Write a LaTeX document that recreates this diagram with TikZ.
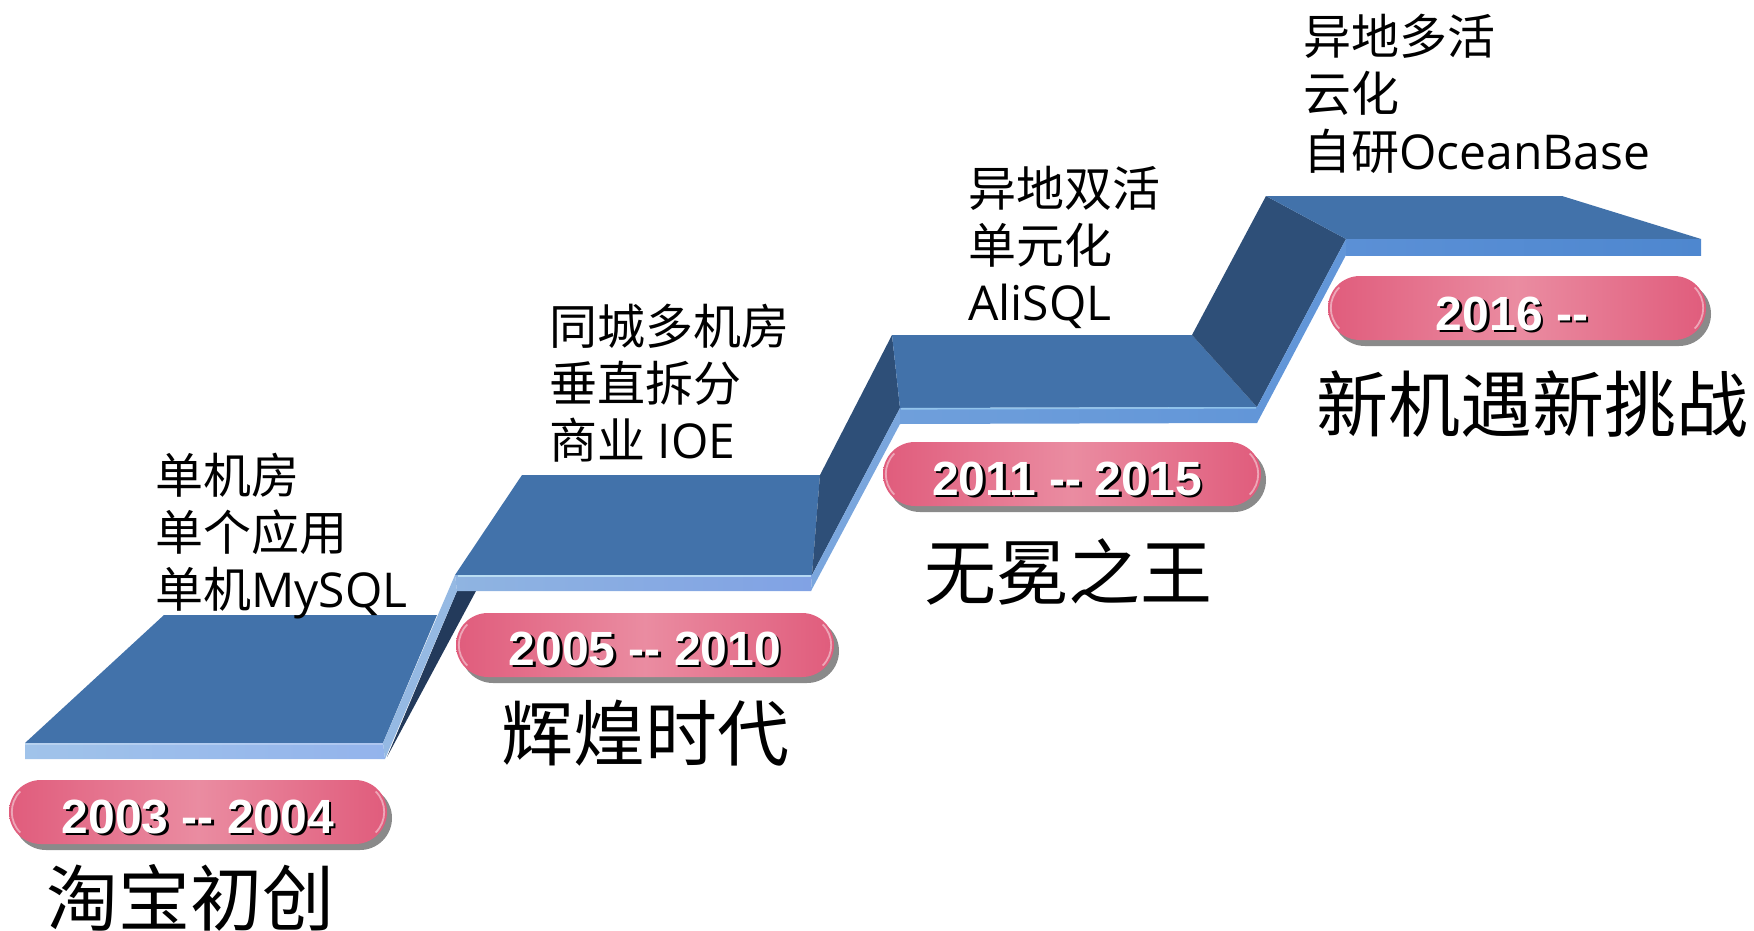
\documentclass[tikz,border=0pt]{standalone}
\usepackage{fontspec}
\setmainfont{Open Sans}
\newfontfamily\cjk{Noto Sans CJK SC}
\newfontfamily\yearfont{Liberation Sans}
\usetikzlibrary{shapes.misc,shadows,calc}

% ribbon colours
\definecolor{faceblue}{HTML}{4272AA}
\definecolor{riserdark}{HTML}{2E4F78}
\definecolor{underdark}{HTML}{233A5B}
\definecolor{stripA}{HTML}{A0C3EA}
\definecolor{stripAr}{HTML}{95B9E3}
\definecolor{stripB}{HTML}{8FB4E1}
\definecolor{stripBr}{HTML}{7AA6DD}
\definecolor{stripC}{HTML}{6F9FDB}
\definecolor{stripCr}{HTML}{6296D8}
\definecolor{stripD}{HTML}{5B90D6}
\definecolor{stripDe}{HTML}{4E87CF}
% badge colours
\definecolor{pinkedge}{HTML}{E05C7C}
\definecolor{pinkmid}{HTML}{EA8CA1}
\definecolor{pillshadow}{HTML}{8A8A8A}

\newcommand\yeardash{-\kern0pt-}

\tikzset{
  topface/.style={fill=faceblue},
  riserface/.style={fill=riserdark},
  edgeglow/.style={line width=1.6pt, line cap=butt},
  pill/.style={rounded rectangle, minimum width=378pt, minimum height=64pt,
    inner sep=0pt, left color=pinkedge, right color=pinkedge, middle color=pinkmid,
    drop shadow={shadow xshift=5pt, shadow yshift=-6pt, fill=pillshadow, opacity=1}},
  rim/.style={white, opacity=0.45, line width=1.8pt},
  yearbase/.style={font=\yearfont\bfseries\fontsize{48}{48}\selectfont,
    anchor=base, inner sep=0pt},
  yearback/.style={yearbase, text=black},
  yearfront/.style={yearbase, text=white},
  item/.style={font=\cjk\fontsize{48}{57}\selectfont, anchor=base west, inner sep=0pt},
  era/.style={font=\cjk\fontsize{72}{72}\selectfont, anchor=base, inner sep=0pt},
}

\newcommand\addrim[1]{%
  \draw[rim] ($(#1.west)+(32,0)+(135:29)$) arc[start angle=135, end angle=225, radius=29];
  \draw[rim] ($(#1.east)+(-32,0)+(-45:29)$) arc[start angle=-45, end angle=45, radius=29];
}

\begin{document}
\begin{tikzpicture}[x=1pt,y=-1pt]
\useasboundingbox (0,0) rectangle (1754,931);

% ---- ribbon staircase ----
% step 1
\fill[topface] (164,615) -- (437,615) -- (383,743) -- (25,743) -- cycle;
\shade[left color=stripA, right color=stripA!92!blue] (25,743) -- (383,743) -- (385,759) -- (25,759) -- cycle;
\draw[edgeglow, white, opacity=0.25] (25,743.8) -- (383,743.8);
% riser 1
\fill[underdark] (457,591) -- (476,591) -- (387,757) -- cycle;
\fill[stripAr] (383,743) -- (455,575) -- (457,591) -- (385,759) -- cycle;
% step 2
\fill[topface] (522,475) -- (820,475) -- (812,575) -- (455,575) -- cycle;
\shade[left color=stripB, right color=stripB!90!blue] (455,575) -- (812,575) -- (811,591) -- (457,591) -- cycle;
\draw[edgeglow, white!80!cyan, opacity=0.7] (458,575.8) -- (811,575.8);
% riser 2
\fill[riserface] (820,475) -- (892,335) -- (900,408) -- (812,575) -- cycle;
\fill[stripBr] (812,575) -- (900,408) -- (900,424) -- (811,591) -- cycle;
% step 3
\fill[topface] (892,335) -- (1192,335) -- (1257,407) -- (900,408) -- cycle;
\shade[left color=stripC, right color=stripCr] (900,408) -- (1257,407) -- (1257,423) -- (900,424) -- cycle;
\draw[edgeglow, white!70!cyan, opacity=0.55] (901,408.8) -- (1256,407.8);
% riser 3
\fill[riserface] (1192,335) -- (1266,196) -- (1346,239) -- (1257,407) -- cycle;
\fill[stripCr] (1257,407) -- (1346,239) -- (1346,255) -- (1257,423) -- cycle;
% step 4
\fill[topface] (1266,196) -- (1562,196) -- (1701,239) -- (1346,239) -- cycle;
\shade[left color=stripD, right color=stripDe] (1346,239) -- (1701,239) -- (1701,255) -- (1346,255) -- cycle;

% ---- year badges ----
\node[pill] (p1) at (198,812) {};
\node[pill] (p2) at (645,645) {};
\node[pill] (p3) at (1072,474) {};
\node[pill] (p4) at (1517,308) {};
\addrim{p1}
\addrim{p2}
\addrim{p3}
\addrim{p4}

\node[yearback]  (y1s) at (200.5,835.5) {2003 \yeardash{} 2004};
\node[yearfront] (y1)  at (198,833)     {2003 \yeardash{} 2004};
\node[yearback]  (y2s) at (647.5,667.5) {2005 \yeardash{} 2010};
\node[yearfront] (y2)  at (645,665)     {2005 \yeardash{} 2010};
\node[yearback]  (y3s) at (1069.5,497.5) {2011 \yeardash{} 2015};
\node[yearfront] (y3)  at (1067,495)     {2011 \yeardash{} 2015};
\node[yearback]  (y4s) at (1514.5,332.5) {2016 \yeardash};
\node[yearfront] (y4)  at (1512,330)     {2016 \yeardash};

% ---- era titles ----
\node[era] (t1) at (190,925)  {淘宝初创};
\node[era] (t2) at (645,760)  {辉煌时代};
\node[era] (t3) at (1068,599) {无冕之王};
\node[era] (t4) at (1532,431) {新机遇新挑战};

% ---- feature lists ----
\node[item] (a1) at (155,493) {单机房};
\node[item] (a2) at (155,550) {单个应用};
\node[item] (a3) at (155,607) {单机{\rmfamily MySQL}};

\node[item] (b1) at (549,344) {同城多机房};
\node[item] (b2) at (549,401) {垂直拆分};
\node[item] (b3) at (549,458) {商业{\rmfamily\ IOE}};

\node[item] (c1) at (968,206) {异地双活};
\node[item] (c2) at (968,263) {单元化};
\node[item] (c3) at (968,320) {{\rmfamily AliSQL}};

\node[item] (d1) at (1303,55)  {异地多活};
\node[item] (d2) at (1303,112) {云化};
\node[item] (d3) at (1303,169) {自研{\rmfamily OceanBase}};
\end{tikzpicture}
\end{document}
